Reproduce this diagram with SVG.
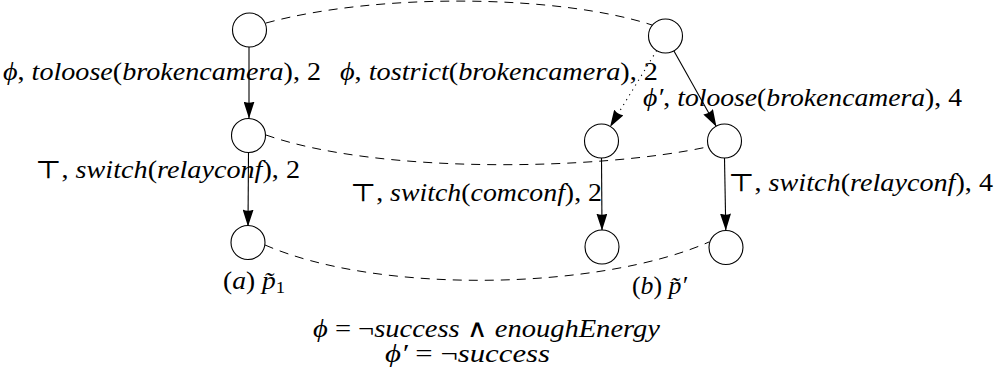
<svg xmlns="http://www.w3.org/2000/svg" width="1006" height="382" viewBox="0 0 1006 382">
<style>
.node{fill:#fff;stroke:#000;stroke-width:1.1}
.edge{fill:none;stroke:#000;stroke-width:1.1}
.dash{fill:none;stroke:#000;stroke-width:1;stroke-dasharray:9 7}
.dot{fill:none;stroke:#000;stroke-width:1.1;stroke-dasharray:1.2 4.5}
.m{font-style:italic;font-size:25px;fill:#000}
.u{font-style:normal}
</style>
<defs>
<marker id="arr" markerUnits="userSpaceOnUse" markerWidth="17" markerHeight="11" viewBox="0 0 17 11" refX="16.5" refY="5.5" orient="auto">
<path d="M0,0 L17,5.5 L0,11 Q2.5,5.5 0,0 z" fill="#000"/>
</marker>
</defs>
<g id="connectors">
<path class="dash" d="M266,23 C380,-8 560,-5 652,25"/>
<path class="dash" d="M266,135 C380,175 600,170 707,147"/>
<path class="dash" d="M265,245 C380,295 600,290 709,242"/>
<line class="edge" x1="249" y1="47" x2="249" y2="118" marker-end="url(#arr)"/>
<line class="edge" x1="248.5" y1="152" x2="248" y2="226" marker-end="url(#arr)"/>
<line class="dot" x1="656.7" y1="50.5" x2="610.3" y2="126.5" marker-end="url(#arr)"/>
<line class="edge" x1="673.8" y1="50.8" x2="716.2" y2="126.2" marker-end="url(#arr)"/>
<line class="edge" x1="601.5" y1="158" x2="602" y2="230" marker-end="url(#arr)"/>
<line class="edge" x1="724.5" y1="158" x2="725.8" y2="230" marker-end="url(#arr)"/>
</g>
<g id="a1"><circle class="node" cx="249.5" cy="30" r="17"/></g>
<g id="a2"><circle class="node" cx="248.5" cy="135.5" r="17"/></g>
<g id="a3"><circle class="node" cx="248" cy="242.5" r="17"/></g>
<g id="b1"><circle class="node" cx="665.5" cy="36" r="17"/></g>
<g id="b2"><circle class="node" cx="601.5" cy="141" r="17"/></g>
<g id="b3"><circle class="node" cx="724.5" cy="141" r="17"/></g>
<g id="b4"><circle class="node" cx="602" cy="247" r="17"/></g>
<g id="b5"><circle class="node" cx="726" cy="247.5" r="17"/></g>
<g id="labels" font-family="Liberation Serif, DejaVu Serif, serif">
<text class="m" x="3" y="80" textLength="318" lengthAdjust="spacingAndGlyphs">ϕ<tspan class="u">, </tspan>toloose<tspan class="u">(</tspan>brokencamera<tspan class="u">), 2</tspan></text>
<text class="m" x="340" y="80" textLength="318" lengthAdjust="spacingAndGlyphs">ϕ<tspan class="u">, </tspan>tostrict<tspan class="u">(</tspan>brokencamera<tspan class="u">), 2</tspan></text>
<text class="m" x="643" y="106" textLength="319" lengthAdjust="spacingAndGlyphs">ϕ′<tspan class="u">, </tspan>toloose<tspan class="u">(</tspan>brokencamera<tspan class="u">), 4</tspan></text>
<text class="m" x="35" y="178" textLength="265" lengthAdjust="spacingAndGlyphs"><tspan class="u">⊤, </tspan>switch<tspan class="u">(</tspan>relayconf<tspan class="u">), 2</tspan></text>
<text class="m" x="350" y="201" textLength="252" lengthAdjust="spacingAndGlyphs"><tspan class="u">⊤, </tspan>switch<tspan class="u">(</tspan>comconf<tspan class="u">), 2</tspan></text>
<text class="m" x="728" y="191" textLength="265" lengthAdjust="spacingAndGlyphs"><tspan class="u">⊤, </tspan>switch<tspan class="u">(</tspan>relayconf<tspan class="u">), 4</tspan></text>
<text class="m" x="223" y="289" textLength="62" lengthAdjust="spacingAndGlyphs"><tspan class="u">(</tspan>a<tspan class="u">) </tspan>p̃<tspan class="u" font-size="17" dy="4">1</tspan></text>
<text class="m" x="632" y="294" textLength="55" lengthAdjust="spacingAndGlyphs"><tspan class="u">(</tspan>b<tspan class="u">) </tspan>p̃′</text>
<text class="m" x="313" y="337" textLength="347" lengthAdjust="spacingAndGlyphs">ϕ <tspan class="u">= ¬</tspan>success <tspan class="u">∧ </tspan>enoughEnergy</text>
<text class="m" x="385" y="362" textLength="165" lengthAdjust="spacingAndGlyphs">ϕ′ <tspan class="u">= ¬</tspan>success</text>
</g>
</svg>
